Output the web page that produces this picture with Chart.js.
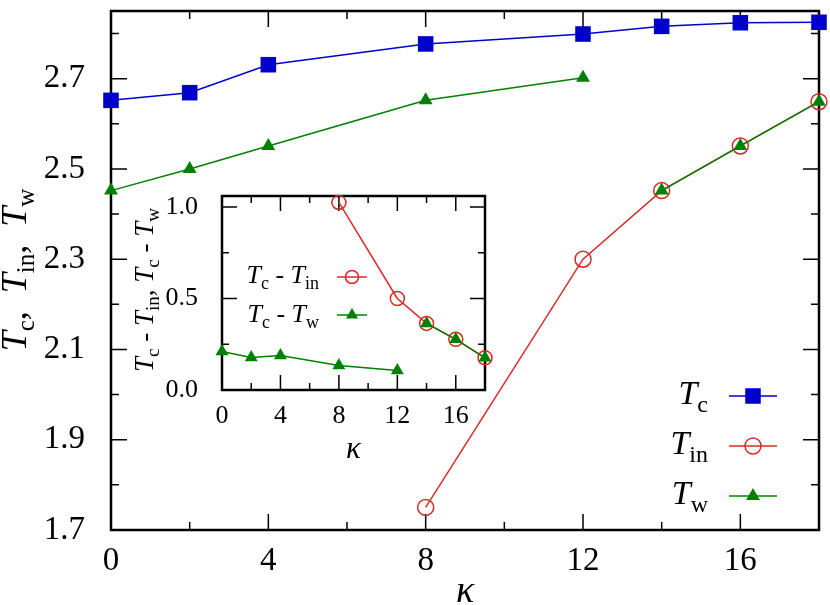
<!DOCTYPE html>
<html>
<head>
<meta charset="utf-8">
<script src="https://cdn.jsdelivr.net/npm/chart.js@4/dist/chart.umd.min.js"></script>
<style>
  html, body { margin: 0; padding: 0; background: #fff; }
  #wrap { position: relative; width: 830px; height: 605px; }
  #main { position: absolute; left: 0; top: 0; }
  #inset { position: absolute; left: 120px; top: 180px; }
</style>
</head>
<body>
<div id="wrap">
  <canvas id="main" width="830" height="605"></canvas>
  <canvas id="inset" width="380" height="290"></canvas>
</div>
<script>
// main plot data
const kappa = [0, 2, 4, 8, 12, 14, 16, 18];
const Tc = [2.652, 2.669, 2.731, 2.777, 2.799, 2.816, 2.824, 2.825];
const kappaIn = [8, 12, 14, 16, 18];
const Tin = [1.75, 2.30, 2.452, 2.551, 2.649];
const Tw = [2.452, 2.50, 2.551, 2.652, 2.702, 2.452, 2.551, 2.649];
const wGapAfter = 12; // Tw line is broken between 12 and 14

// inset data
const dTin = [1.025, 0.50, 0.364, 0.277, 0.176];
const dTw = [0.21, 0.177, 0.188, 0.134, 0.107, 0.364, 0.277, 0.176];

// ticks
const xMajor = [0, 4, 8, 12, 16];
const xMinor = [2, 6, 10, 14];
const yMajor = [1.7, 1.9, 2.1, 2.3, 2.5, 2.7];
const yMinor = [1.8, 2.0, 2.2, 2.4, 2.6, 2.8];
const ixMajor = [0, 4, 8, 12, 16];
const ixMinor = [2, 6, 10, 14];
const iyMajor = [0, 0.5, 1.0];
const iyMinor = [0.25, 0.75];

const blue = '#0000cc', red = '#dc2828', green = '#008000';
const serif = '"Liberation Serif", "Times New Roman", serif';

const pts = (xs, ys) => xs.map((x, i) => ({ x: x, y: ys[i] }));
const gap = ctx => (ctx.p0.parsed.x === wGapAfter ? 'rgba(0,0,0,0)' : undefined);

function richText(ctx, parts, x, y, align) {
  let total = 0;
  parts.forEach(p => { ctx.font = p[1]; total += ctx.measureText(p[0]).width; });
  let cx = align === 'right' ? x - total : align === 'center' ? x - total / 2 : x;
  ctx.textAlign = 'left';
  ctx.textBaseline = 'alphabetic';
  ctx.fillStyle = '#000';
  parts.forEach(p => {
    ctx.font = p[1];
    ctx.fillText(p[0], cx, y + (p[2] || 0));
    cx += ctx.measureText(p[0]).width;
  });
}

function marker(ctx, ds, x, y, r) {
  ctx.save();
  ctx.fillStyle = ds.backgroundColor;
  ctx.strokeStyle = ds.borderColor;
  ctx.lineWidth = ds.pointBorderWidth;
  Chart.helpers.drawPoint(ctx, { pointStyle: ds.pointStyle, radius: r || ds.pointRadius, borderWidth: ds.pointBorderWidth, rotation: 0 }, x, y);
  ctx.restore();
}

function legendRow(ctx, ds, parts, tx, y, lx0, lx1, lineY, r) {
  richText(ctx, parts, tx, y, 'right');
  ctx.save();
  ctx.strokeStyle = ds.borderColor;
  ctx.lineWidth = ds.borderWidth;
  ctx.beginPath(); ctx.moveTo(lx0, lineY); ctx.lineTo(lx1, lineY); ctx.stroke();
  ctx.restore();
  marker(ctx, ds, (lx0 + lx1) / 2, lineY, r);
}

function decor(o) {
  return {
    id: 'decor',
    beforeDatasetsDraw(chart) {
      const { ctx, chartArea: a, scales: { x, y } } = chart;
      ctx.save();
      ctx.strokeStyle = '#000';
      ctx.lineWidth = 1.5;
      const tick = (vals, len, isX) => vals.forEach(v => {
        ctx.beginPath();
        if (isX) {
          const p = x.getPixelForValue(v);
          ctx.moveTo(p, a.bottom); ctx.lineTo(p, a.bottom - len);
          ctx.moveTo(p, a.top); ctx.lineTo(p, a.top + len);
        } else {
          const p = y.getPixelForValue(v);
          ctx.moveTo(a.left, p); ctx.lineTo(a.left + len, p);
          ctx.moveTo(a.right, p); ctx.lineTo(a.right - len, p);
        }
        ctx.stroke();
      });
      tick(o.xMajor, o.major, true); tick(o.xMinor, o.minor, true);
      tick(o.yMajor, o.major, false); tick(o.yMinor, o.minor, false);
      ctx.lineWidth = 2.5;
      ctx.strokeRect(a.left, a.top, a.right - a.left, a.bottom - a.top);
      ctx.restore();
    },
    afterDraw(chart) { o.draw(chart); }
  };
}

function axis(min, max, ticks, size, pad, fmt, fit) {
  return {
    type: 'linear', min: min, max: max,
    grid: { display: false }, border: { display: false },
    afterBuildTicks: s => { s.ticks = ticks.map(v => ({ value: v })); },
    afterFit: s => {
      fit(s);
      s.paddingTop = 0; s.paddingBottom = 0; s.paddingLeft = 0; s.paddingRight = 0;
    },
    ticks: { color: '#000', font: { family: serif, size: size }, padding: pad, callback: fmt }
  };
}

// ---- main chart ----
const TI = 'italic 34px ' + serif, SUB = '24px ' + serif, NRM = '34px ' + serif;
const YTI = 'italic 36px ' + serif, YSUB = '25px ' + serif, YNRM = '36px ' + serif;

new Chart(document.getElementById('main'), {
  type: 'line',
  data: {
    datasets: [
      { label: 'Tc', data: pts(kappa, Tc), borderColor: blue, backgroundColor: blue, borderWidth: 1.5,
        pointStyle: 'rect', pointRadius: 11, pointBorderWidth: 0, order: 2, clip: false },
      { label: 'Tin', data: pts(kappaIn, Tin), borderColor: red, backgroundColor: 'rgba(0,0,0,0)', borderWidth: 1.5,
        pointStyle: 'circle', pointRadius: 8, pointBorderWidth: 1.5, order: 1, clip: false },
      { label: 'Tw', data: pts(kappa, Tw), borderColor: green, backgroundColor: green, borderWidth: 1.5,
        pointStyle: 'triangle', pointRadius: 8, pointBorderWidth: 0, order: 0, clip: false,
        segment: { borderColor: gap } }
    ]
  },
  options: {
    responsive: false,
    animation: false,
    layout: { padding: { left: 0, top: 3, right: 10, bottom: 0 } },
    plugins: { legend: { display: false }, tooltip: { enabled: false } },
    elements: { line: { tension: 0 } },
    scales: {
      x: axis(0, 18, xMajor, 33, 4, v => String(v), s => { s.height = 75; }),
      y: axis(1.7, 2.85, yMajor, 33, 18, v => v.toFixed(1), s => { s.width = 111; })
    }
  },
  plugins: [decor({
    xMajor: xMajor, xMinor: xMinor, yMajor: yMajor, yMinor: yMinor, major: 16, minor: 8,
    draw(chart) {
      const ctx = chart.ctx, a = chart.chartArea, ds = chart.data.datasets;
      ctx.save();
      ctx.translate(26, 270);
      ctx.rotate(-Math.PI / 2);
      richText(ctx, [['T', YTI], ['c', YSUB, 8], [',  ', YNRM], ['T', YTI], ['in', YSUB, 8], [',  ', YNRM], ['T', YTI], ['w', YSUB, 8]], 0, 0, 'center');
      ctx.restore();
      ctx.save();
      ctx.font = 'italic 38px ' + serif;
      ctx.textAlign = 'center';
      ctx.fillStyle = '#000';
      ctx.fillText('\u03ba', (a.left + a.right) / 2, 602);
      ctx.restore();
      legendRow(ctx, ds[0], [['T', TI], ['c', SUB, 8]], 708, 404, 729, 777, 396);
      legendRow(ctx, ds[1], [['T', TI], ['in', SUB, 8]], 708, 454, 729, 777, 446);
      legendRow(ctx, ds[2], [['T', TI], ['w', SUB, 8]], 708, 504, 729, 777, 496);
    }
  })]
});

// ---- inset ----
const ITI = 'italic 27px ' + serif, ISUB = '19px ' + serif, INRM = '27px ' + serif;
const LTI = 'italic 26px ' + serif, LSUB = '18px ' + serif, LNRM = '26px ' + serif;

new Chart(document.getElementById('inset'), {
  type: 'line',
  data: {
    datasets: [
      { label: 'Tc - Tin', data: pts(kappaIn, dTin), borderColor: red, backgroundColor: 'rgba(0,0,0,0)', borderWidth: 1.5,
        pointStyle: 'circle', pointRadius: 7, pointBorderWidth: 1.5, order: 1, clip: false },
      { label: 'Tc - Tw', data: pts(kappa, dTw), borderColor: green, backgroundColor: green, borderWidth: 1.5,
        pointStyle: 'triangle', pointRadius: 7.5, pointBorderWidth: 0, order: 0, clip: false,
        segment: { borderColor: gap } }
    ]
  },
  options: {
    responsive: false,
    animation: false,
    layout: { padding: { left: 0, top: 16, right: 15, bottom: 0 } },
    plugins: { legend: { display: false }, tooltip: { enabled: false } },
    elements: { line: { tension: 0 } },
    scales: {
      x: axis(0, 18, ixMajor, 26, 3, v => String(v), s => { s.height = 80; }),
      y: axis(0, 1.06, iyMajor, 26, 16, v => v.toFixed(1), s => { s.width = 102; })
    }
  },
  plugins: [decor({
    xMajor: ixMajor, xMinor: ixMinor, yMajor: iyMajor, yMinor: iyMinor, major: 15, minor: 7,
    draw(chart) {
      const ctx = chart.ctx, a = chart.chartArea, ds = chart.data.datasets;
      ctx.save();
      ctx.translate(33, 110);
      ctx.rotate(-Math.PI / 2);
      richText(ctx, [['T', ITI], ['c', ISUB, 6], [' - ', INRM], ['T', ITI], ['in', ISUB, 6], [', ', INRM],
        ['T', ITI], ['c', ISUB, 6], [' - ', INRM], ['T', ITI], ['w', ISUB, 6]], 0, 0, 'center');
      ctx.restore();
      ctx.save();
      ctx.font = 'italic 31px ' + serif;
      ctx.textAlign = 'center';
      ctx.fillStyle = '#000';
      ctx.fillText('\u03ba', (a.left + a.right) / 2, 278);
      ctx.restore();
      legendRow(ctx, ds[0], [['T', LTI], ['c', LSUB, 6], [' - ', LNRM], ['T', LTI], ['in', LSUB, 6]], 199, 103, 217, 247, 97, 6.5);
      legendRow(ctx, ds[1], [['T', LTI], ['c', LSUB, 6], [' - ', LNRM], ['T', LTI], ['w', LSUB, 6]], 199, 142, 217, 247, 135, 7);
    }
  })]
});
</script>
</body>
</html>
